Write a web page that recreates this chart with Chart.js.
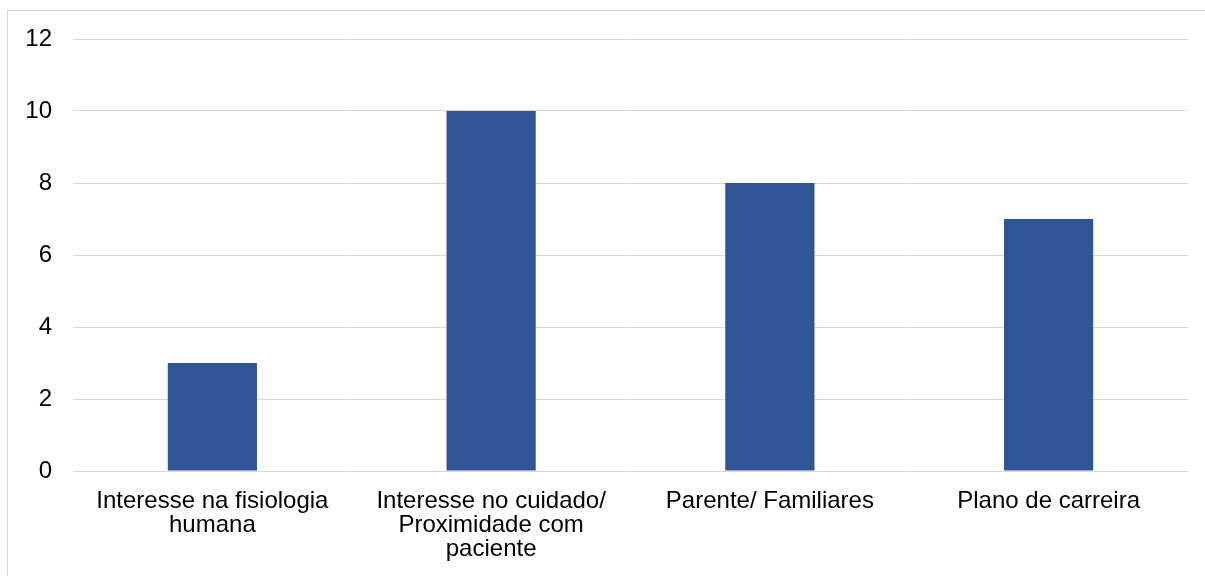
<!DOCTYPE html>
<html>
<head>
<meta charset="utf-8">
<script src="https://cdn.jsdelivr.net/npm/chart.js@4/dist/chart.umd.min.js"></script>
<style>
  html, body { margin: 0; padding: 0; background: #fff; overflow: hidden; }
  #frame {
    position: absolute; left: 7px; top: 10px; width: 1210px; height: 580px;
    border: 1px solid #d9d9d9; box-sizing: border-box;
  }
  #wrap { position: absolute; left: 0; top: 0; width: 1205px; height: 576px; }
</style>
</head>
<body>
<div id="frame"></div>
<div id="wrap"><canvas id="chart"></canvas></div>
<script>
// ── Data ──────────────────────────────────────────────────────────────────────
const categories = [
  ["Interesse na fisiologia", "humana"],
  ["Interesse no cuidado/", "Proximidade com", "paciente"],
  "Parente/ Familiares",
  "Plano de carreira",
];
const values = [3, 10, 8, 7];
const yTicks = [0, 2, 4, 6, 8, 10, 12];

const BAR_COLOR  = "#2F5597";
const GRID_COLOR = "#d9d9d9";
const FONT       = { family: "'Liberation Sans', Arial, sans-serif", size: 24 };

// ── Chart ─────────────────────────────────────────────────────────────────────
new Chart(document.getElementById("chart"), {
  type: "bar",
  data: {
    labels: categories,
    datasets: [{
      data: values,
      backgroundColor: BAR_COLOR,
      categoryPercentage: 1,
      barPercentage: 0.32,
    }],
  },
  options: {
    responsive: true,
    maintainAspectRatio: false,
    animation: false,
    layout: { padding: { top: 39, right: 17, left: 0, bottom: 0 } },
    plugins: { legend: { display: false }, tooltip: { enabled: false } },
    scales: {
      x: {
        grid: { display: false },
        border: { display: false },
        ticks: {
          color: "#000",
          font: { ...FONT, lineHeight: 1.0 },
          padding: 10,
          maxRotation: 0,
          autoSkip: false,
        },
        afterFit: (s) => { s.height = 105; },
      },
      y: {
        min: 0,
        max: 12,
        afterBuildTicks: (s) => { s.ticks = yTicks.map((v) => ({ value: v })); },
        grid: { color: GRID_COLOR, lineWidth: 1, drawTicks: false },
        border: { display: false },
        ticks: { color: "#000", font: FONT, padding: 21 },
        afterFit: (s) => { s.width = 73; },
      },
    },
  },
});
</script>
</body>
</html>
